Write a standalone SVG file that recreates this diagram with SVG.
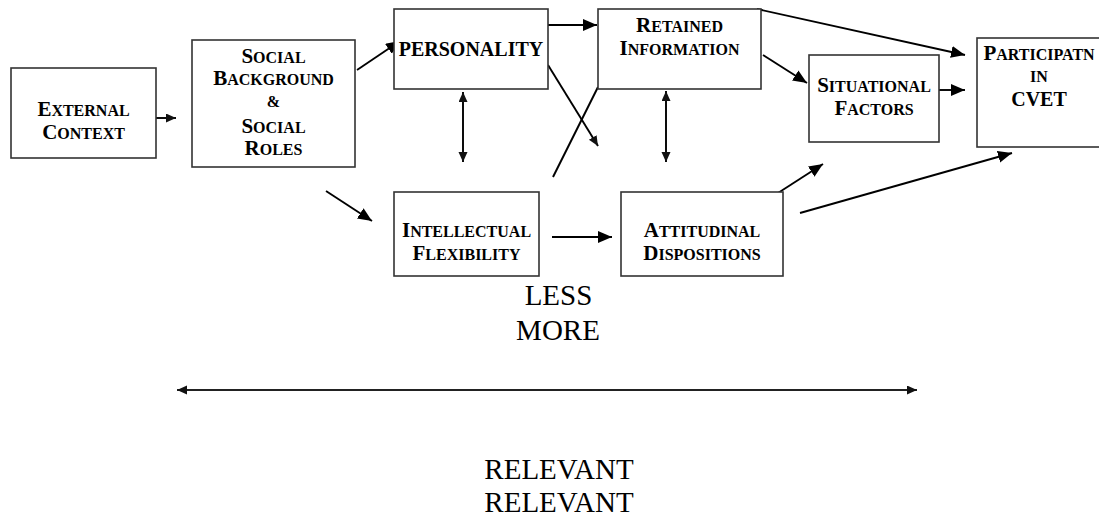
<svg xmlns="http://www.w3.org/2000/svg" width="1099" height="516" viewBox="0 0 1099 516">
<style>
.box{fill:#fff;stroke:#333;stroke-width:1.6}
.t{font-family:"Liberation Serif","Times New Roman",serif;font-weight:bold;font-size:16px;fill:#000;text-anchor:middle}
.b{font-size:21px}
.p{font-size:20px}
.n{font-family:"Liberation Serif","Times New Roman",serif;font-size:29px;fill:#000;text-anchor:middle}
.c{fill:none;stroke:#000;stroke-width:1.9}
.big{marker-end:url(#ah)}
.sm{marker-end:url(#as)}
.dbl{marker-start:url(#as2);marker-end:url(#as)}
</style>
<defs>
<marker id="ah" markerUnits="userSpaceOnUse" markerWidth="15" markerHeight="13" refX="14" refY="6" orient="auto"><path d="M0,0 L14,6 L0,12 z" fill="#000"/></marker>
<marker id="as" markerUnits="userSpaceOnUse" markerWidth="11" markerHeight="10" refX="10" refY="4.5" orient="auto"><path d="M0,0 L10,4.5 L0,9 z" fill="#111"/></marker>
<marker id="as2" markerUnits="userSpaceOnUse" markerWidth="11" markerHeight="10" refX="10" refY="4.5" orient="auto-start-reverse"><path d="M0,0 L10,4.5 L0,9 z" fill="#111"/></marker>
</defs>
<rect width="1099" height="516" fill="#fff"/>

<g id="connectors">
<line class="c sm" x1="156" y1="118" x2="176" y2="118"/>
<line class="c big" x1="357" y1="70" x2="400" y2="41"/>
<line class="c big" x1="326" y1="191" x2="372" y2="221"/>
<line class="c big" x1="537" y1="25" x2="597" y2="25"/>
<line class="c sm" x1="548" y1="65" x2="598" y2="146"/>
<line class="c" x1="553" y1="177" x2="598" y2="87"/>
<line class="c dbl" x1="463" y1="92" x2="463" y2="162"/>
<line class="c dbl" x1="666" y1="91" x2="666" y2="162"/>
<line class="c big" x1="552" y1="237" x2="612" y2="237"/>
<line class="c big" x1="757" y1="9" x2="965" y2="55"/>
<line class="c big" x1="763" y1="55" x2="807" y2="83"/>
<line class="c big" x1="936" y1="90" x2="965" y2="90"/>
<line class="c big" x1="778" y1="193" x2="823" y2="164"/>
<line class="c big" x1="800" y1="213" x2="1012" y2="153"/>
<line class="dbl" x1="177" y1="390" x2="917" y2="390" stroke="#222" stroke-width="2.2"/>
</g>

<g id="external-context">
<rect class="box" x="11" y="68" width="145" height="90"/>
<text class="t" x="83.5" y="116"><tspan class="b">E</tspan>XTERNAL</text>
<text class="t" x="83.5" y="139"><tspan class="b">C</tspan>ONTEXT</text>
</g>

<g id="social-background">
<rect class="box" x="192" y="40" width="163" height="127"/>
<text class="t" x="273.5" y="63"><tspan class="b">S</tspan>OCIAL</text>
<text class="t" x="273.5" y="85"><tspan class="b">B</tspan>ACKGROUND</text>
<text class="t" x="273.5" y="107" font-size="18">&amp;</text>
<text class="t" x="273.5" y="133"><tspan class="b">S</tspan>OCIAL</text>
<text class="t" x="273.5" y="155"><tspan class="b">R</tspan>OLES</text>
</g>

<g id="personality">
<rect class="box" x="394" y="9" width="154" height="80"/>
<text class="t p" x="471" y="56">PERSONALITY</text>
</g>

<g id="retained-information">
<rect class="box" x="598" y="9" width="163" height="80"/>
<text class="t" x="679.5" y="32"><tspan class="b">R</tspan>ETAINED</text>
<text class="t" x="679.5" y="55"><tspan class="b">I</tspan>NFORMATION</text>
</g>

<g id="situational-factors">
<rect class="box" x="809" y="55" width="130" height="87"/>
<text class="t" x="874" y="92"><tspan class="b">S</tspan>ITUATIONAL</text>
<text class="t" x="874" y="115"><tspan class="b">F</tspan>ACTORS</text>
</g>

<g id="participation">
<rect class="box" x="977" y="38" width="125" height="109"/>
<text class="t" x="1039" y="60"><tspan class="b">P</tspan>ARTICIPATN</text>
<text class="t" x="1039" y="82">IN</text>
<text class="t p" x="1039" y="106">CVET</text>
</g>

<g id="intellectual-flexibility">
<rect class="box" x="394" y="192" width="145" height="84"/>
<text class="t" x="466.5" y="237"><tspan class="b">I</tspan>NTELLECTUAL</text>
<text class="t" x="466.5" y="260"><tspan class="b">F</tspan>LEXIBILITY</text>
</g>

<g id="attitudinal-dispositions">
<rect class="box" x="621" y="192" width="162" height="84"/>
<text class="t" x="702" y="237"><tspan class="b">A</tspan>TTITUDINAL</text>
<text class="t" x="702" y="260"><tspan class="b">D</tspan>ISPOSITIONS</text>
</g>

<g id="scale-labels">
<text class="n" x="558.5" y="305">LESS</text>
<text class="n" x="558" y="340">MORE</text>
<text class="n" x="559" y="479">RELEVANT</text>
<text class="n" x="559" y="512">RELEVANT</text>
</g>
</svg>
